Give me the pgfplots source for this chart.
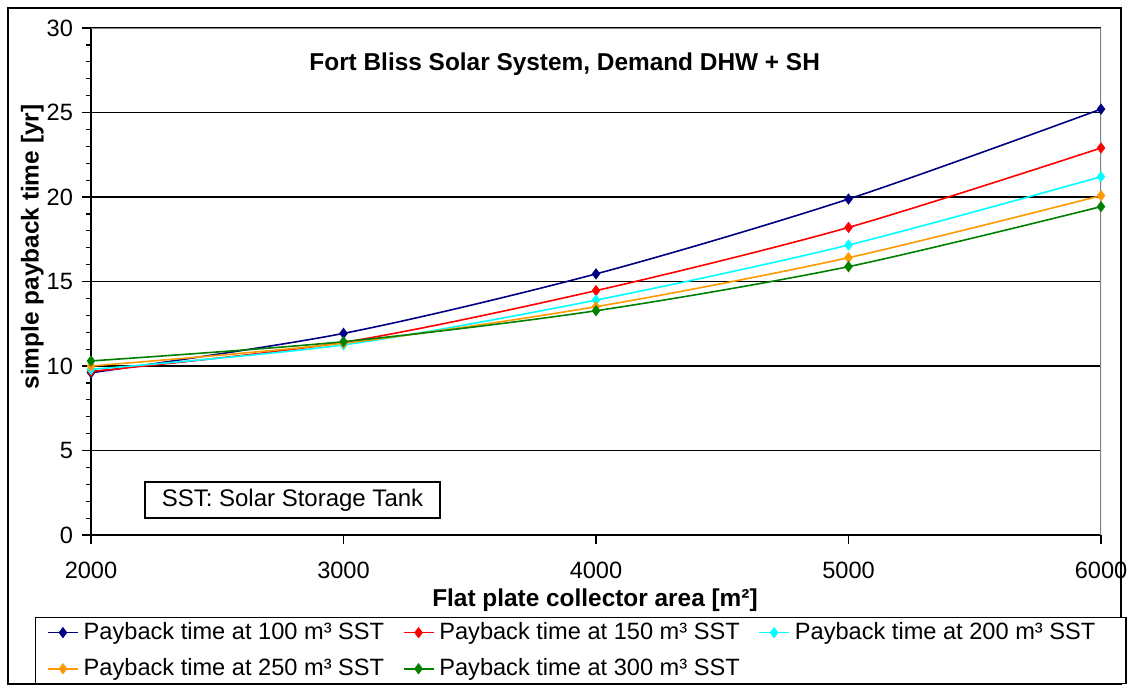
\documentclass[border=0pt]{standalone}
\usepackage{fontspec}
\setmainfont{Liberation Sans}
\usepackage{pgfplots}
\pgfplotsset{compat=1.18}
\definecolor{cnavy}{RGB}{0,0,128}
\definecolor{cred}{RGB}{255,0,0}
\definecolor{ccyan}{RGB}{0,255,255}
\definecolor{corange}{RGB}{255,153,0}
\definecolor{cgreen}{RGB}{0,128,0}
\begin{document}
\begin{tikzpicture}
\useasboundingbox (0,0) rectangle (564.5pt,346pt);
\draw[black, line width=0.6pt] (4pt,4pt) rectangle (560.5pt,342pt);
\begin{axis}[
  at={(45.5pt,78.5pt)}, anchor=south west,
  width=505pt, height=253.5pt, scale only axis,
  xmin=2000, xmax=6000, ymin=0, ymax=30,
  xtick={2000,3000,4000,5000,6000},
  ytick={0,5,10,15,20,25,30},
  minor y tick num=4,
  ymajorgrids, grid style={black, line width=0.6pt},
  axis x line*=bottom, axis y line*=left,
  axis line style={black, line width=0.6pt},
  tick style={black, line width=0.6pt},
  tick align=outside,
  major tick length=4.5pt, minor tick length=2.5pt,
  /pgf/number format/assume math mode=true,
  /pgf/number format/1000 sep={},
  ticklabel style={font=\fontsize{11.8}{13}\selectfont},
  xticklabel style={yshift=-5.5pt},
  yticklabel style={xshift=-1pt},
  xlabel={Flat plate collector area [m²]},
  ylabel={simple payback time [yr]},
  xlabel style={font=\bfseries\fontsize{12.2}{14}\selectfont, at={(axis description cs:0.499,-0.129)}, anchor=center},
  ylabel style={font=\bfseries\fontsize{12.2}{14}\selectfont, at={(axis description cs:-0.058,0.568)}, anchor=center},
  legend columns=3,
  legend cell align=left,
  legend style={at={(axis description cs:0.4847,-0.1617)}, anchor=north, draw=black, line width=0.6pt,
    font=\fontsize{11.8}{13}\selectfont, inner xsep=6pt, inner ysep=1.5pt, row sep=6pt, column sep=0pt,
    nodes={inner sep=1pt}},
  legend image code/.code={\draw[mark repeat=2, mark phase=2] plot coordinates {(0pt,0pt)(7.5pt,0pt)(15pt,0pt)};},
  every axis plot/.append style={line width=0.8pt, mark=diamond*, mark size=2.2pt, smooth, tension=0.5},
]
\draw[gray, line width=0.6pt] (rel axis cs:0,1) -- (rel axis cs:1,1) -- (rel axis cs:1,0);
\addplot[cnavy, mark options={fill=cnavy}] coordinates {(2000,9.6) (3000,11.93) (4000,15.45) (5000,19.88) (6000,25.2)};
\addlegendentry{\makebox[160pt][l]{\hspace{1.5pt}Payback time at 100 m³ SST}}
\addplot[cred, mark options={fill=cred}] coordinates {(2000,9.68) (3000,11.4) (4000,14.46) (5000,18.2) (6000,22.9)};
\addlegendentry{\makebox[160pt][l]{\hspace{1.5pt}Payback time at 150 m³ SST}}
\addplot[ccyan, mark options={fill=ccyan}] coordinates {(2000,9.8) (3000,11.25) (4000,13.9) (5000,17.16) (6000,21.2)};
\addlegendentry{\makebox[160pt][l]{\hspace{1.5pt}Payback time at 200 m³ SST}}
\addplot[corange, mark options={fill=corange}] coordinates {(2000,10.0) (3000,11.35) (4000,13.51) (5000,16.41) (6000,20.08)};
\addlegendentry{\makebox[160pt][l]{\hspace{1.5pt}Payback time at 250 m³ SST}}
\addplot[cgreen, mark options={fill=cgreen}] coordinates {(2000,10.3) (3000,11.44) (4000,13.27) (5000,15.88) (6000,19.43)};
\addlegendentry{\makebox[160pt][l]{\hspace{1.5pt}Payback time at 300 m³ SST}}
\node[font=\bfseries\fontsize{12.2}{14}\selectfont] at (axis description cs:0.469,0.929) {Fort Bliss Solar System, Demand DHW + SH};
\node[draw=black, line width=0.6pt, fill=white, minimum width=147.5pt, minimum height=18pt, font=\fontsize{12}{14}\selectfont] at (axis description cs:0.1995,0.069) {SST: Solar Storage Tank};
\end{axis}
\end{tikzpicture}
\end{document}
